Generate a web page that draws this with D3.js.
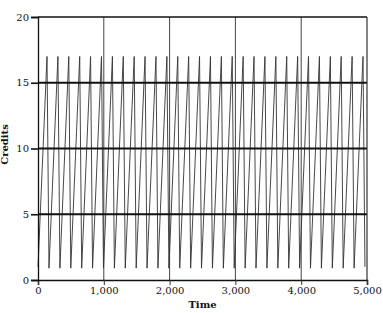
<!DOCTYPE html>
<html>
<head>
<meta charset="utf-8">
<script src="https://cdn.jsdelivr.net/npm/d3@7"></script>
<style>
  html, body { margin: 0; padding: 0; background: #fff; }
  svg { display: block; }
  text { font-family: "DejaVu Serif", serif; fill: #111; }
</style>
</head>
<body>
<svg id="chart" width="383" height="313"></svg>
<script>
const timeTicks = [0, 1000, 2000, 3000, 4000, 5000];
const creditTicks = [0, 5, 10, 15, 20];
const troughTimes = [0, 167, 333, 498, 664, 829, 995, 1161, 1326, 1492, 1657, 1823, 1989, 2154, 2320, 2485, 2651, 2817, 2982, 3148, 3313, 3479, 3645, 3810, 3976, 4141, 4307, 4473, 4638, 4804, 4969];
const troughCredits = [1.0, 0.9, 0.9, 0.9, 0.9, 0.9, 0.9, 0.9, 0.9, 0.9, 0.9, 0.9, 0.9, 0.9, 0.9, 0.9, 0.9, 0.9, 0.9, 0.9, 0.9, 0.9, 0.9, 0.9, 0.9, 0.9, 0.9, 0.9, 0.9, 0.9, 1.0];
const peakTimes = [137, 303, 468, 634, 799, 965, 1131, 1296, 1462, 1627, 1793, 1959, 2124, 2290, 2455, 2621, 2787, 2952, 3118, 3283, 3449, 3615, 3780, 3946, 4111, 4277, 4443, 4608, 4774, 4939];
const peakCredits = [17.0, 17.0, 17.0, 17.0, 17.0, 17.0, 17.0, 17.0, 17.0, 17.0, 17.0, 17.0, 17.0, 17.0, 17.0, 17.0, 17.0, 17.0, 17.0, 17.0, 17.0, 17.0, 17.0, 17.0, 17.0, 17.0, 17.0, 17.0, 17.0, 17.0];

const margin = {top: 17, right: 16, bottom: 33, left: 38};
const W = 383, H = 313;
const svg = d3.select("#chart");
const x = d3.scaleLinear().domain([0, 5000]).range([margin.left, W - margin.right]);
const y = d3.scaleLinear().domain([0, 20]).range([H - margin.bottom, margin.top]);

// vertical grid lines
svg.append("g").selectAll("line").data(timeTicks.slice(1, -1)).join("line")
  .attr("x1", d => x(d)).attr("x2", d => x(d))
  .attr("y1", y(20)).attr("y2", y(0))
  .attr("stroke", "#444").attr("stroke-width", 1);

// data line
const pts = [];
troughTimes.forEach((t, i) => {
  pts.push([t, troughCredits[i]]);
  if (i < peakTimes.length) pts.push([peakTimes[i], peakCredits[i]]);
});
svg.append("path").datum(pts)
  .attr("fill", "none").attr("stroke", "#333").attr("stroke-width", 0.9)
  .attr("d", d3.line().x(d => x(d[0])).y(d => y(d[1])));

// horizontal grid lines
svg.append("g").selectAll("line").data(creditTicks.slice(1, -1)).join("line")
  .attr("x1", x(0)).attr("x2", x(5000))
  .attr("y1", d => y(d)).attr("y2", d => y(d))
  .attr("stroke", "#111").attr("stroke-width", 1.8);

// frame
svg.append("line").attr("x1", x(0)).attr("x2", x(5000)).attr("y1", y(20)).attr("y2", y(20))
  .attr("stroke", "#111").attr("stroke-width", 1.4);
svg.append("line").attr("x1", x(5000)).attr("x2", x(5000)).attr("y1", y(20)).attr("y2", y(0))
  .attr("stroke", "#333").attr("stroke-width", 1.2);

// axes
const xAxis = d3.axisBottom(x).tickValues(timeTicks).tickFormat(d3.format(",")).tickSize(5).tickPadding(2);
const gx = svg.append("g").attr("transform", `translate(0,${y(0)})`).call(xAxis);
gx.select(".domain").attr("stroke", "#111").attr("stroke-width", 1.6);
gx.selectAll(".tick line").attr("stroke", "#333");
gx.selectAll("text").style("font-size", "10px").attr("fill", "#111");

const yAxis = d3.axisLeft(y).tickValues(creditTicks).tickSize(7).tickPadding(2);
const gy = svg.append("g").attr("transform", `translate(${x(0)},0)`).call(yAxis);
gy.select(".domain").attr("stroke", "#111").attr("stroke-width", 1.3);
gy.selectAll(".tick line").attr("stroke", "#111").attr("stroke-width", 1.6);
gy.selectAll("text").style("font-size", "10px").attr("fill", "#111");

svg.append("text").attr("x", (x(0) + x(5000)) / 2).attr("y", 308)
  .attr("text-anchor", "middle").style("font-size", "10px").style("font-weight", "bold").text("Time");
svg.append("text").attr("transform", `translate(8,${(y(0) + y(20)) / 2 - 4}) rotate(-90)`)
  .attr("text-anchor", "middle").style("font-size", "10px").style("font-weight", "bold").text("Credits");
</script>
</body>
</html>
